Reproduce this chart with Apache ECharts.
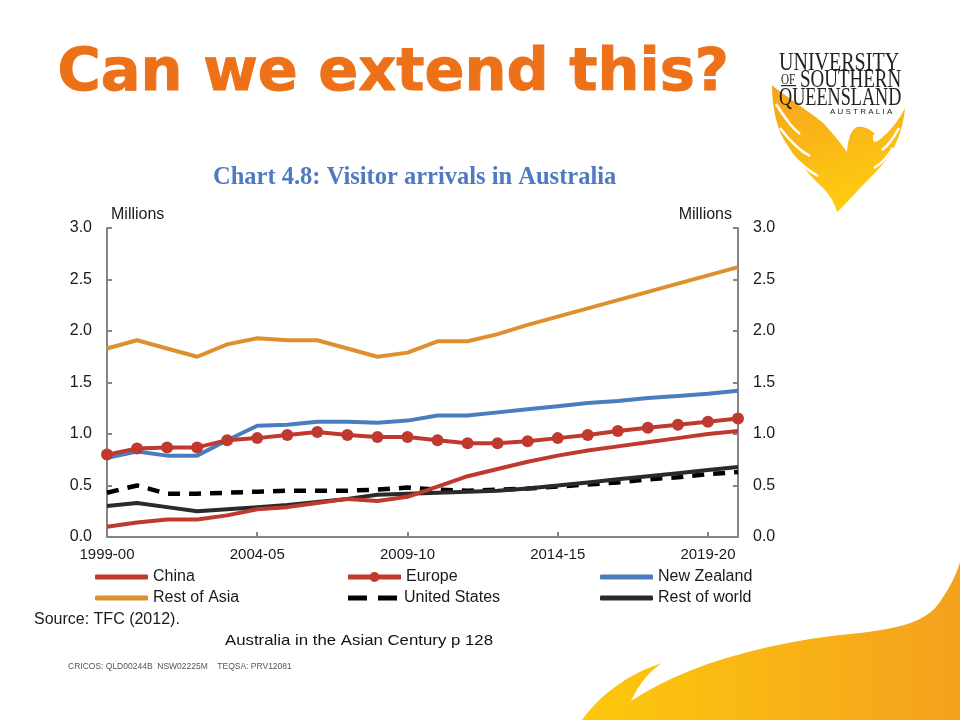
<!DOCTYPE html>
<html>
<head>
<meta charset="utf-8">
<script src="https://cdn.jsdelivr.net/npm/echarts@6/dist/echarts.min.js"></script>
<style>html,body{margin:0;padding:0;background:#fff;}#c{width:960px;height:720px;}</style>
</head>
<body>
<div id="c"></div>
<script>
const categories = ["1999-00","2000-01","2001-02","2002-03","2003-04","2004-05","2005-06","2006-07","2007-08","2008-09","2009-10","2010-11","2011-12","2012-13","2013-14","2014-15","2015-16","2016-17","2017-18","2018-19","2019-20","2020-21"];
const yTicks = [0, 0.5, 1.0, 1.5, 2.0, 2.5, 3.0];
const china = [0.10,0.14,0.17,0.17,0.21,0.27,0.29,0.33,0.37,0.35,0.39,0.49,0.59,0.66,0.73,0.79,0.84,0.88,0.92,0.96,1.00,1.03];
const europe = [0.80,0.86,0.87,0.87,0.94,0.96,0.99,1.02,0.99,0.97,0.97,0.94,0.91,0.91,0.93,0.96,0.99,1.03,1.06,1.09,1.12,1.15];
const newZealand = [0.77,0.83,0.79,0.79,0.94,1.08,1.09,1.12,1.12,1.11,1.13,1.18,1.18,1.21,1.24,1.27,1.30,1.32,1.35,1.37,1.39,1.42];
const restOfAsia = [1.83,1.91,1.83,1.75,1.87,1.93,1.91,1.91,1.83,1.75,1.79,1.90,1.90,1.97,2.06,2.14,2.22,2.30,2.38,2.46,2.54,2.62];
const unitedStates = [0.43,0.50,0.42,0.42,0.43,0.44,0.45,0.45,0.45,0.46,0.48,0.46,0.45,0.46,0.47,0.49,0.51,0.53,0.56,0.58,0.61,0.63];
const restOfWorld = [0.30,0.33,0.29,0.25,0.27,0.29,0.31,0.34,0.37,0.41,0.42,0.43,0.44,0.45,0.47,0.50,0.53,0.56,0.59,0.62,0.65,0.68];

const RED = '#c0392f', BLUE = '#4a7dc0', ORANGE = '#e08f2e', BLACK = '#000000', DARK = '#2a2a2a';
const FONT = '"Liberation Sans", Arial, sans-serif';
const axisFont = {fontFamily: FONT, fontSize: 15, color: '#1a1a1a'};

const chart = echarts.init(document.getElementById('c'), null, {renderer: 'canvas'});

function yAxisDef(pos) {
  return {
    type: 'value', position: pos, min: 0, max: 3, interval: 0.5,
    name: 'Millions', nameLocation: 'end', nameGap: 5,
    nameTextStyle: Object.assign({}, axisFont, {fontSize: 16, align: pos === 'left' ? 'left' : 'right', padding: pos === 'left' ? [0,0,0,4] : [0,6,0,0]}),
    axisLine: {show: true, lineStyle: {color: '#858585', width: 2}},
    axisTick: {show: true, inside: true, length: 5, lineStyle: {color: '#858585', width: 2}},
    splitLine: {show: false},
    axisLabel: Object.assign({}, axisFont, {fontSize: 16, margin: 15, formatter: v => v.toFixed(1)})
  };
}

function legendDef(item, left, top, h) {
  return {
    data: [item], left: left, top: top, orient: 'horizontal',
    itemWidth: 53, itemHeight: h, itemGap: 0, padding: 0,
    textStyle: Object.assign({}, axisFont, {fontSize: 16, padding: [0,0,0,0]}),
    selectedMode: false
  };
}

function lin(x2, y2, c0, c1) {
  return {type: 'linear', x: 0, y: 0, x2: x2, y2: y2, colorStops: [{offset: 0, color: c0}, {offset: 1, color: c1}]};
}

// decorative outline: start point then cubic segments [c1x,c1y,c2x,c2y,x,y] or line segments [x,y]
function outline(start, segs) {
  const pts = [start.slice()];
  let p = start.slice();
  segs.forEach(s => {
    if (s.length === 2) { pts.push(s.slice()); p = s.slice(); return; }
    for (let i = 1; i <= 12; i++) {
      const t = i / 12, u = 1 - t;
      pts.push([
        u*u*u*p[0] + 3*u*u*t*s[0] + 3*u*t*t*s[2] + t*t*t*s[4],
        u*u*u*p[1] + 3*u*u*t*s[1] + 3*u*t*t*s[3] + t*t*t*s[5]
      ]);
    }
    p = [s[4], s[5]];
  });
  return pts;
}

const swooshPts = outline([582,720], [
  [596,700,622,676,662,663],
  [648,672,638,686,631,701],
  [680,668,760,642,860,633],
  [900,628,930,622,943,597],
  [950,587,956,575,960,562],
  [960,720]
]);
const phoenixPts = outline([772,85], [
  [772,110,778,132,786,143],
  [794,156,806,172,822,187],
  [830,195,835,204,837,212],
  [846,204,858,190,865,183],
  [876,172,890,158,896,143],
  [901,132,904,120,905,108],
  [898,122,888,134,876,142],
  [873,141], [873,135], [875,134],
  [870,129,864,126,857,127],
  [851,130,848,138,847,152],
  [840,142,830,130,822,122],
  [812,114,800,106,788,97],
  [782,93,776,89,772,85]
]);
const featherLines = [
  [[776,104],[790,124],[800,134]],
  [[780,128],[796,146],[810,156]],
  [[789,152],[806,168],[818,176]],
  [[899,128],[890,142],[882,150]],
  [[893,148],[884,160],[874,168]]
];

const europeIcon = 'path://M0,3H53V8H0Z M21.5,5.5A5,5 0 1,1 31.5,5.5A5,5 0 1,1 21.5,5.5Z';
const dashIcon = 'path://M0,0H19V5H0Z M30,0H49V5H30Z';

const option = {
  animation: false,
  backgroundColor: '#ffffff',
  grid: {left: 107, right: 222, top: 228, bottom: 183, containLabel: false},
  xAxis: {
    type: 'category', data: categories, boundaryGap: false,
    axisLine: {show: true, lineStyle: {color: '#858585', width: 2}},
    axisTick: {show: true, inside: true, length: 5, interval: (i) => i % 5 === 0, lineStyle: {color: '#858585', width: 2}},
    axisLabel: Object.assign({}, axisFont, {interval: (i) => i % 5 === 0, margin: 10}),
    splitLine: {show: false}
  },
  yAxis: [yAxisDef('left'), yAxisDef('right')],
  legend: [
    legendDef({name: 'China', icon: 'roundRect'}, 95, 569, 5),
    legendDef({name: 'Rest of Asia', icon: 'roundRect'}, 95, 590, 5),
    legendDef({name: 'Europe', icon: europeIcon}, 348, 569, 10),
    legendDef({name: 'United States', icon: dashIcon}, 348, 590, 5),
    legendDef({name: 'New Zealand', icon: 'roundRect'}, 600, 569, 5),
    legendDef({name: 'Rest of world', icon: 'roundRect'}, 600, 590, 5)
  ],
  series: [
    {name: 'Rest of Asia', type: 'line', data: restOfAsia, symbol: 'none', lineStyle: {color: ORANGE, width: 4}, itemStyle: {color: ORANGE}, z: 2},
    {name: 'New Zealand', type: 'line', data: newZealand, symbol: 'none', lineStyle: {color: BLUE, width: 4}, itemStyle: {color: BLUE}, z: 2},
    {name: 'United States', type: 'line', data: unitedStates, symbol: 'none', lineStyle: {color: BLACK, width: 4.5, type: [12, 9]}, itemStyle: {color: BLACK}, z: 3},
    {name: 'Rest of world', type: 'line', data: restOfWorld, symbol: 'none', lineStyle: {color: DARK, width: 4}, itemStyle: {color: DARK}, z: 3},
    {name: 'China', type: 'line', data: china, symbol: 'none', lineStyle: {color: RED, width: 4}, itemStyle: {color: RED}, z: 4},
    {name: 'Europe', type: 'line', data: europe, symbol: 'circle', symbolSize: 12, showSymbol: true, lineStyle: {color: RED, width: 4}, itemStyle: {color: RED}, z: 5}
  ],
  graphic: [
    {type: 'polygon', z: -10, shape: {points: swooshPts}, style: {fill: lin(1, 0, '#fdc80c', '#f4a11e')}},
    {type: 'polygon', z: 1, shape: {points: phoenixPts}, style: {fill: lin(0.3, 1, '#f6a31c', '#fdcb10')}},
    ...featherLines.map(pts => ({type: 'polyline', z: 2, shape: {points: pts, smooth: 0.5}, style: {stroke: '#ffffff', lineWidth: 2.5, fill: null}})),
    {type: 'text', left: 57, top: 45, style: {text: 'Can we extend this?', font: 'bold 59px "DejaVu Sans", sans-serif', fill: '#ec7118', stroke: '#ec7118', lineWidth: 1}},
    {type: 'text', left: 213, top: 165, style: {text: 'Chart 4.8: Visitor arrivals in Australia', font: 'bold 24.5px "Liberation Serif", serif', fill: '#4f7ac0'}},
    {type: 'text', z: 5, x: 779, y: 50, scaleX: 0.77, style: {text: 'UNIVERSITY', font: '26px "Liberation Serif", serif', fill: '#222', verticalAlign: 'top'}},
    {type: 'text', z: 5, x: 781, y: 73, scaleX: 0.8, style: {text: 'OF', font: '14px "Liberation Serif", serif', fill: '#222', verticalAlign: 'top'}},
    {type: 'rect', z: 5, shape: {x: 781, y: 85, width: 15, height: 1.2}, style: {fill: '#222'}},
    {type: 'text', z: 5, x: 800, y: 67, scaleX: 0.73, style: {text: 'SOUTHERN', font: '26px "Liberation Serif", serif', fill: '#222', verticalAlign: 'top'}},
    {type: 'text', z: 5, x: 779, y: 85, scaleX: 0.70, style: {text: 'QUEENSLAND', font: '26px "Liberation Serif", serif', fill: '#222', verticalAlign: 'top'}},
    {type: 'text', z: 5, x: 830, y: 108, style: {text: 'A U S T R A L I A', font: '8px "Liberation Sans", sans-serif', fill: '#222', verticalAlign: 'top'}},
    {type: 'text', left: 34, top: 612, style: {text: 'Source: TFC (2012).', font: '16px "Liberation Sans", sans-serif', fill: '#1a1a1a'}},
    {type: 'text', x: 225, y: 633, scaleX: 1.12, style: {text: 'Australia in the Asian Century p 128', font: '15px "Liberation Sans", sans-serif', fill: '#111', verticalAlign: 'top'}},
    {type: 'text', left: 68, top: 662, style: {text: 'CRICOS: QLD00244B  NSW02225M    TEQSA: PRV12081', font: '8.5px "Liberation Sans", sans-serif', fill: '#555'}}
  ]
};
chart.setOption(option);
</script>
</body>
</html>
